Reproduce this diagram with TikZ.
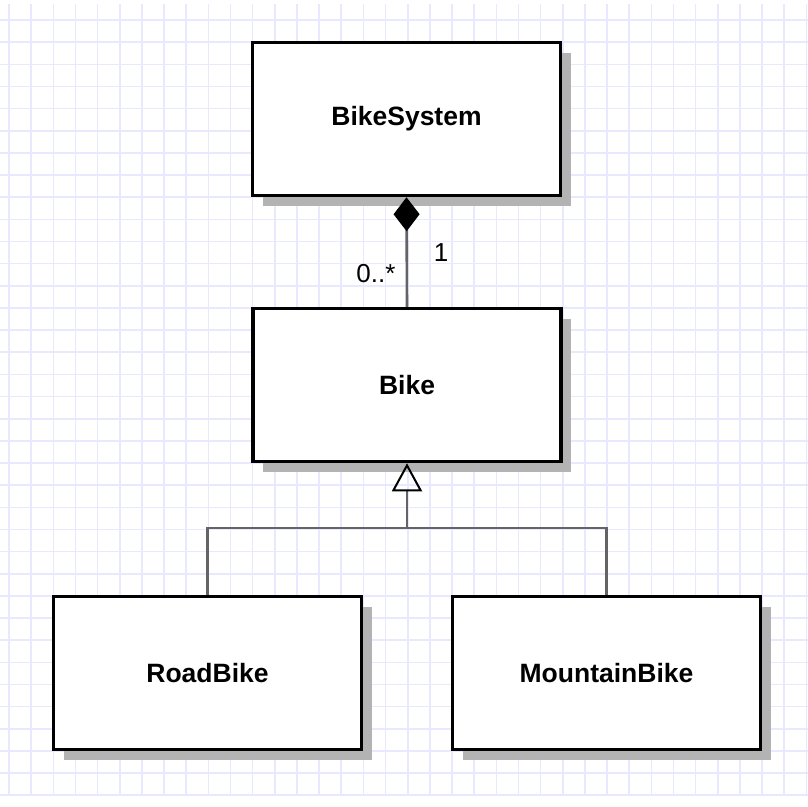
\documentclass[tikz,border=0pt]{standalone}
\usepackage{fontspec}
\setmainfont{Liberation Sans}
\usetikzlibrary{arrows.meta,shadows}
\definecolor{gridc}{RGB}{232,232,255}
\definecolor{shadowc}{RGB}{179,179,179}
\definecolor{connc}{RGB}{100,100,100}
\tikzset{
  classbox/.style={draw=black, line width=3.5pt, fill=white, rectangle,
    minimum width=308pt, minimum height=153pt, inner sep=0pt,
    font=\fontsize{26.5}{30}\selectfont\bfseries,
    general shadow={fill=shadowc, shadow xshift=10pt, shadow yshift=-10pt}},
  conn/.style={draw=connc, line width=2.6pt},
  mult/.style={font=\fontsize{26}{30}\selectfont, text=black, inner sep=0pt}
}
\begin{document}
\begin{tikzpicture}[x=1pt,y=-1pt]
\useasboundingbox (0,0) rectangle (808,806);
\fill[white] (0,0) rectangle (808,806);
% grid
\foreach \i in {0,...,36}{
  \draw[gridc, line width=1.6pt] ({9+22.15*\i},4) -- ({9+22.15*\i},795);
}
\foreach \j in {0,...,35}{
  \draw[gridc, line width=1.6pt] (0,{20+22.15*\j}) -- (808,{20+22.15*\j});
}
% classes
\node[classbox] (bs) at (406.5,119) {BikeSystem};
\node[classbox] (bike) at (407,385) {Bike};
\node[classbox] (road) at (207.5,673) {RoadBike};
\node[classbox] (mtb) at (606.5,673) {MountainBike};
% composition
\draw[conn, {Diamond[length=34pt,width=26pt,black]}-] (bs.south) -- (bike.north);
\node[mult] (one) at (441,253) {1};
\node[mult] (many) at (376,274) {0..*};
% generalization
\coordinate (hub) at (407,528);
\draw[conn] (road.north) |- (hub) -| (mtb.north);
\draw[conn, -{Triangle[open,length=28pt,width=30pt,line width=2pt,black]}] (hub) -- (bike.south);
\end{tikzpicture}
\end{document}
